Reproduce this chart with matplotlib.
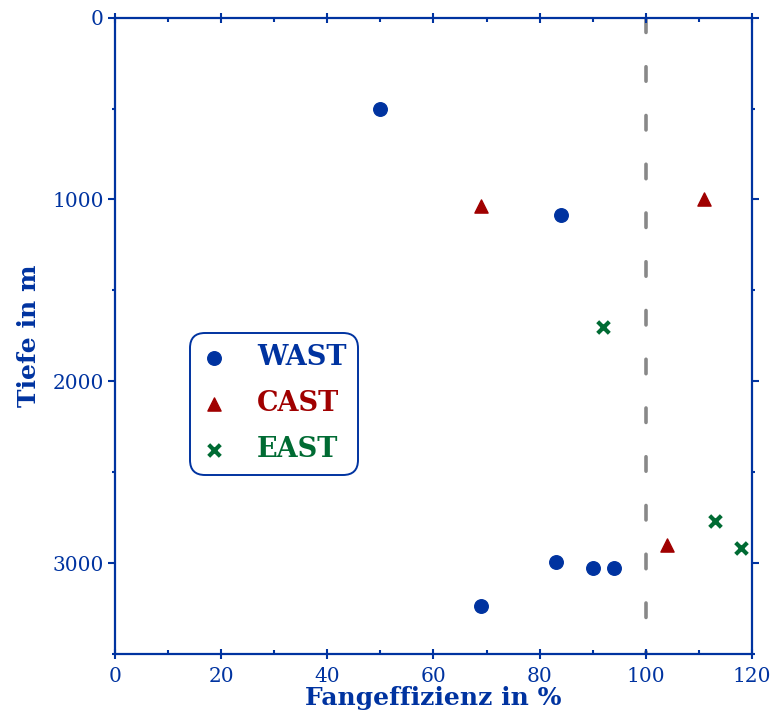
import matplotlib.pyplot as plt

# Fangeffizienz (%) vs. Tiefe (m)
wast_x = [50, 84, 83, 90, 94, 69]
wast_y = [500, 1085, 2995, 3025, 3025, 3235]
cast_x = [69, 111, 104]
cast_y = [1035, 1000, 2900]
east_x = [92, 113, 118]
east_y = [1700, 2770, 2915]
ref_x = 100

BLUE = '#0033a0'
RED = '#a00000'
GREEN = '#006b33'

plt.rcParams['font.family'] = ['DejaVu Serif']

fig = plt.figure(figsize=(7.72, 7.19), dpi=100)
ax = fig.add_axes([0.149, 0.0904, 0.825, 0.885])

# drawn top -> bottom so the dash pattern starts at the upper edge
ax.axvline(ref_x, ymin=1, ymax=0, color='#888888', lw=2.6, ls=(0, (4.0, 9.5)),
           dash_capstyle='round', zorder=1)

ax.scatter(wast_x, wast_y, marker='o', s=95, color=BLUE, label='WAST', zorder=3)
ax.scatter(cast_x, cast_y, marker='^', s=90, color=RED, label='CAST', zorder=3)
ax.scatter(east_x, east_y, marker='x', s=70, color=GREEN, linewidths=3, label='EAST', zorder=3)

ax.set_xlim(0, 120)
ax.set_ylim(3500, 0)
ax.set_xticks(range(0, 121, 20))
ax.set_xticks(range(10, 120, 20), minor=True)
ax.set_yticks([0, 1000, 2000, 3000])
ax.set_yticks([500, 1500, 2500, 3500], minor=True)

for s in ax.spines.values():
    s.set_color(BLUE)
    s.set_linewidth(1.6)

ax.tick_params(axis='x', which='major', direction='inout', length=7, width=1.5,
               color=BLUE, labelcolor=BLUE, labelsize=14.5, top=True, pad=6)
ax.tick_params(axis='x', which='minor', direction='in', length=3, width=1.5,
               color=BLUE, top=True)
ax.tick_params(axis='y', which='major', direction='out', length=5, width=1.5,
               color=BLUE, labelcolor=BLUE, labelsize=14.5, right=True, pad=3)
ax.tick_params(axis='y', which='minor', direction='out', length=2.5, width=1.5,
               color=BLUE, right=True)

ax.set_xlabel('Fangeffizienz in %', color=BLUE, fontsize=18, fontweight='bold', labelpad=0)
ax.set_ylabel('Tiefe in m', color=BLUE, fontsize=18, fontweight='bold', labelpad=8)

leg = ax.legend(loc='upper left', bbox_to_anchor=(0.1177, 0.5047),
                prop={'weight': 'bold', 'size': 19.5}, frameon=True, fancybox=True,
                framealpha=1, edgecolor=BLUE, handlelength=0.9, handletextpad=1.15,
                labelspacing=0.7, borderpad=0.42, borderaxespad=0, scatterpoints=1)
leg.get_frame().set_linewidth(1.4)
leg.get_frame().set_boxstyle('round,pad=0,rounding_size=0.55')
for txt, c in zip(leg.get_texts(), [BLUE, RED, GREEN]):
    txt.set_color(c)

plt.savefig('out.png', dpi=100)
